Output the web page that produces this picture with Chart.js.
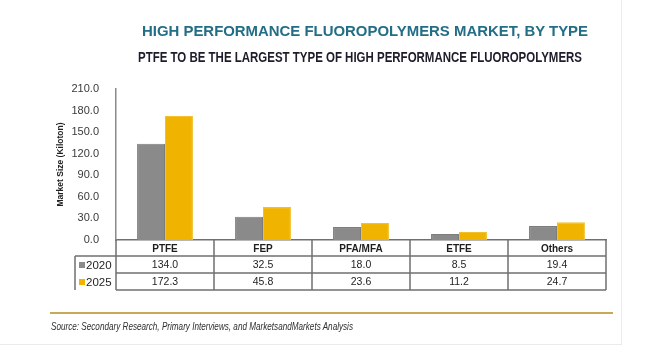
<!DOCTYPE html>
<html>
<head>
<meta charset="utf-8">
<script src="https://cdn.jsdelivr.net/npm/chart.js@4"></script>
<style>
  html, body { margin: 0; padding: 0; background: #ffffff; }
  #wrap { position: relative; width: 666px; height: 361px; overflow: hidden; font-family: "Liberation Sans", Arial, sans-serif; }
  #panel { position: absolute; left: 0; top: 0; width: 621px; height: 344px; border-right: 1px solid #ebebeb; border-bottom: 1px solid #ebebeb; }
  canvas { position: absolute; left: 0; top: 0; }
  .txt { position: absolute; white-space: nowrap; transform-origin: 0 0; line-height: 1; }
  #title { left: 142px; top: 23px; font-size: 15px; font-weight: bold; color: #236e86; }
  #subtitle { left: 138px; top: 50px; font-size: 14px; font-weight: bold; color: #1c1c2a; }
  #rule { position: absolute; left: 50px; top: 312px; width: 563px; height: 2px; background: #c9a957; }
  #source { left: 51px; top: 322px; font-size: 10px; font-style: italic; color: #2e2e2e; }
</style>
</head>
<body>
<div id="wrap">
  <div id="panel"></div>
  <canvas id="chart" width="666" height="361"></canvas>
  <div class="txt" id="title" data-w="446">HIGH PERFORMANCE FLUOROPOLYMERS MARKET, BY TYPE</div>
  <div class="txt" id="subtitle" data-w="444">PTFE TO BE THE LARGEST TYPE OF HIGH PERFORMANCE FLUOROPOLYMERS</div>
  <div id="rule"></div>
  <div class="txt" id="source" data-w="302">Source: Secondary Research, Primary Interviews, and MarketsandMarkets Analysis</div>
</div>
<script>
// Categories and values
const types = ['PTFE', 'FEP', 'PFA/MFA', 'ETFE', 'Others'];
const years = ['2020', '2025'];
const values2020 = [134.0, 32.5, 18.0, 8.5, 19.4];
const values2025 = [172.3, 45.8, 23.6, 11.2, 24.7];
const yTicks = [0, 30, 60, 90, 120, 150, 180, 210];

const colors = ['#8a8a8a', '#f0b400'];
const lineColor = '#707070';

// Squeeze the condensed headline texts to the width they have in the picture
document.querySelectorAll('.txt').forEach(function(el) {
  const target = parseFloat(el.dataset.w);
  const w = el.getBoundingClientRect().width;
  el.style.transform = 'scaleX(' + (target / w) + ')';
});

// Draws the data table under the x axis, lined up with the category scale
const dataTable = {
  id: 'dataTable',
  afterDraw(chart) {
    const ctx = chart.ctx;
    const x = chart.scales.x;
    const area = chart.chartArea;
    const colW = (area.right - area.left) / types.length;
    const rowTops = [area.bottom, area.bottom + 16, area.bottom + 33, area.bottom + 50];
    const legLeft = 75;
    const rows = [values2020, values2025];

    ctx.save();
    ctx.strokeStyle = lineColor;
    ctx.lineWidth = 1.5;
    ctx.beginPath();
    // vertical lines between columns
    for (let i = 0; i <= types.length; i++) {
      const px = area.left + i * colW;
      ctx.moveTo(px, rowTops[0]);
      ctx.lineTo(px, rowTops[3]);
    }
    // horizontal lines
    for (let r = 1; r < rowTops.length; r++) {
      ctx.moveTo(r === 1 ? legLeft : area.left, rowTops[r]);
      ctx.lineTo(area.right, rowTops[r]);
    }
    ctx.moveTo(legLeft, rowTops[1]);
    ctx.lineTo(legLeft, rowTops[3]);
    ctx.stroke();

    ctx.textAlign = 'center';
    ctx.textBaseline = 'middle';
    ctx.fillStyle = '#1e1e1e';
    // header row: category names
    ctx.font = 'bold 10px "Liberation Sans", Arial, sans-serif';
    types.forEach(function(t, i) {
      ctx.fillText(t, x.getPixelForValue(i), (rowTops[0] + rowTops[1]) / 2 + 1);
    });
    // value rows
    ctx.font = '10.5px "Liberation Sans", Arial, sans-serif';
    rows.forEach(function(vals, r) {
      const cy = (rowTops[r + 1] + rowTops[r + 2]) / 2 + 1;
      vals.forEach(function(v, i) {
        ctx.fillText(v.toFixed(1), x.getPixelForValue(i), cy);
      });
      // legend cell
      ctx.fillStyle = colors[r];
      ctx.fillRect(legLeft + 4, cy - 3.5, 6, 6);
      ctx.fillStyle = '#1e1e1e';
      ctx.textAlign = 'left';
      ctx.font = '11.5px "Liberation Sans", Arial, sans-serif';
      ctx.fillText(years[r], legLeft + 11, cy);
      ctx.textAlign = 'center';
      ctx.font = '10.5px "Liberation Sans", Arial, sans-serif';
    });
    ctx.restore();
  }
};

new Chart(document.getElementById('chart').getContext('2d'), {
  type: 'bar',
  data: {
    labels: types,
    datasets: [{
      label: years[0],
      data: values2020,
      backgroundColor: colors[0],
      borderColor: '#7c7c7c',
      borderWidth: 1
    }, {
      label: years[1],
      data: values2025,
      backgroundColor: colors[1],
      borderColor: '#f3c030',
      borderWidth: 1
    }]
  },
  options: {
    responsive: false,
    devicePixelRatio: 1,
    animation: false,
    categoryPercentage: 0.57,
    barPercentage: 1.0,
    layout: {
      padding: { left: 56, right: 60, top: 89, bottom: 113 }
    },
    scales: {
      x: {
        ticks: { display: false },
        grid: { display: false },
        border: { display: true, color: lineColor, width: 1.5 }
      },
      y: {
        min: 0,
        max: 210,
        afterBuildTicks: function(scale) {
          scale.ticks = yTicks.map(function(v) { return { value: v }; });
        },
        afterFit: function(scale) {
          scale.width = 60;
        },
        ticks: {
          padding: 9,
          color: '#3a3a3a',
          font: { size: 11, family: '"Liberation Sans", Arial, sans-serif' },
          callback: function(value) {
            return value.toFixed(1);
          }
        },
        grid: { display: false },
        border: { display: true, color: '#8a8a8a', width: 1.5 },
        title: {
          display: true,
          text: 'Market Size (Kiloton)',
          color: '#222',
          padding: 0,
          font: { size: 8.5, weight: 'bold', family: '"Liberation Sans", Arial, sans-serif' }
        }
      }
    },
    plugins: {
      legend: { display: false },
      tooltip: { enabled: false }
    }
  },
  plugins: [dataTable]
});
</script>
</body>
</html>
